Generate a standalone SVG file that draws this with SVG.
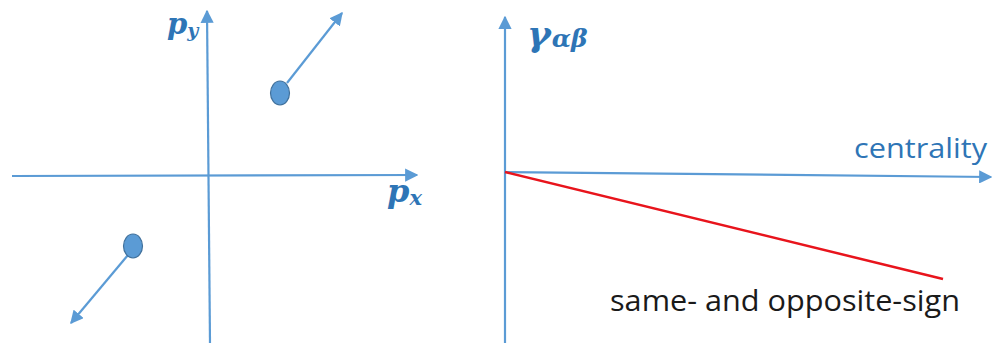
<svg xmlns="http://www.w3.org/2000/svg" width="992" height="343" viewBox="0 0 992 343">
<style>
.ax{stroke:#5b9bd5;stroke-width:2.2;fill:none}
.math{font-family:"DejaVu Serif","Liberation Serif",serif;font-style:italic;font-weight:bold;fill:#2e75b6}
.dot{fill:#5b9bd5;stroke:#41719c;stroke-width:1.2}
</style>
<defs>
<marker id="ah" viewBox="0 0 10 10" refX="9" refY="5" markerWidth="6" markerHeight="6" orient="auto" markerUnits="strokeWidth">
<path d="M0,0 L10,5 L0,10 z" fill="#5b9bd5"/>
</marker>
</defs>
<g id="connectors">
<line class="ax" x1="12" y1="176" x2="417" y2="175" marker-end="url(#ah)"/>
<line class="ax" x1="210" y1="343" x2="207" y2="11" marker-end="url(#ah)"/>
<line class="ax" x1="287" y1="83" x2="342" y2="13" marker-end="url(#ah)"/>
<line class="ax" x1="128" y1="255" x2="71" y2="323" marker-end="url(#ah)"/>
<line class="ax" x1="505" y1="343" x2="505" y2="17" marker-end="url(#ah)"/>
<line class="ax" x1="505" y1="172" x2="991" y2="177" marker-end="url(#ah)"/>
<line x1="505" y1="172" x2="943" y2="279" stroke="#e8141c" stroke-width="2.5"/>
</g>
<g id="dot-upper"><ellipse class="dot" cx="280" cy="93" rx="9.5" ry="12"/></g>
<g id="dot-lower"><ellipse class="dot" cx="133" cy="246" rx="9.5" ry="12"/></g>
<g id="label-py"><text class="math" x="167" y="34" font-size="29">p<tspan font-size="19" dy="3">y</tspan></text></g>
<g id="label-px"><text class="math" x="387" y="202" font-size="32">p<tspan font-size="21" dy="3">x</tspan></text></g>
<g id="label-gamma"><text class="math" x="527" y="46" font-size="36">γ<tspan font-size="25" dx="1" dy="1">αβ</tspan></text></g>
<g id="label-centrality"><text x="854" y="158" font-family="Open Sans,Liberation Sans,sans-serif" font-size="28" fill="#2e75b6" textLength="133" lengthAdjust="spacingAndGlyphs">centrality</text></g>
<g id="label-sign"><text x="610" y="311" font-family="Open Sans,Liberation Sans,sans-serif" font-size="30" fill="#1a1a1a" textLength="350" lengthAdjust="spacingAndGlyphs">same- and opposite-sign</text></g>
</svg>
